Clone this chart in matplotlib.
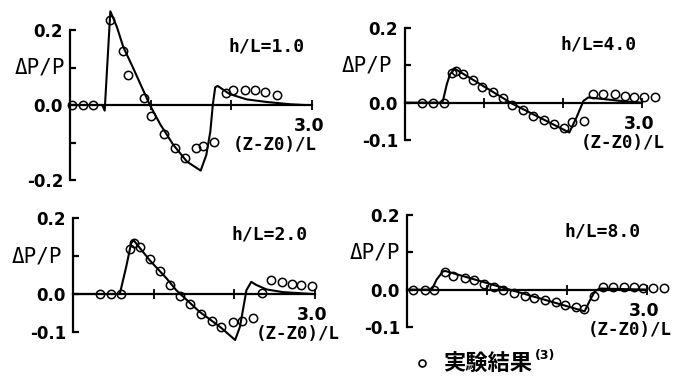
import matplotlib
matplotlib.use("Agg")
from matplotlib import pyplot as plt
from matplotlib.lines import Line2D

exp1_x = [0.02, 0.16, 0.29, 0.49, 0.66, 0.72, 0.92, 1.01, 1.16, 1.30, 1.42, 1.56, 1.65, 1.79, 1.93, 2.02, 2.17, 2.29, 2.42, 2.56]
exp1_y = [0, 0, 0, 0.227, 0.144, 0.081, 0.02, -0.03, -0.077, -0.114, -0.14, -0.115, -0.11, -0.099, 0.033, 0.039, 0.041, 0.039, 0.034, 0.028]
calc1_x = [0.0, 0.40, 0.43, 0.50, 0.58, 0.66, 0.78, 0.91, 0.99, 1.12, 1.28, 1.45, 1.62, 1.69, 1.74, 1.77, 1.80, 1.83, 1.98, 2.19, 2.44, 2.73, 2.90]
calc1_y = [0, 0, -0.015, 0.25, 0.209, 0.155, 0.10, 0.038, 0.0, -0.052, -0.106, -0.151, -0.175, -0.133, -0.07, 0.0, 0.047, 0.051, 0.029, 0.015, 0.008, 0.002, 0.0]

exp2_x = [0.21, 0.35, 0.49, 0.59, 0.65, 0.74, 0.86, 0.98, 1.12, 1.24, 1.36, 1.49, 1.62, 1.76, 1.89, 2.01, 2.12, 2.27, 2.38, 2.50, 2.66, 2.78, 2.90, 3.03, 3.16]
exp2_y = [0, 0, 0, 0.079, 0.086, 0.076, 0.061, 0.043, 0.028, 0.012, -0.005, -0.02, -0.035, -0.047, -0.058, -0.067, -0.053, -0.049, 0.023, 0.023, 0.023, 0.019, 0.016, 0.015, 0.016]
calc2_x = [0.0, 0.46, 0.48, 0.53, 0.57, 0.63, 1.36, 2.08, 2.17, 2.26, 2.32, 2.50, 2.80, 3.0]
calc2_y = [0, 0, 0.005, 0.05, 0.076, 0.091, -0.003, -0.08, -0.04, 0.005, 0.014, 0.01, 0.003, 0]

exp3_x = [0.33, 0.47, 0.60, 0.71, 0.75, 0.83, 0.96, 1.08, 1.20, 1.33, 1.45, 1.59, 1.72, 1.83, 1.98, 2.09, 2.23, 2.34, 2.46, 2.59, 2.71, 2.83, 2.96]
exp3_y = [0, 0, 0, 0.118, 0.135, 0.124, 0.091, 0.06, 0.025, -0.005, -0.025, -0.053, -0.07, -0.088, -0.073, -0.07, -0.064, 0.003, 0.037, 0.032, 0.026, 0.024, 0.021]
calc3_x = [0.0, 0.58, 0.66, 0.72, 0.75, 0.95, 1.16, 1.28, 1.57, 1.82, 2.01, 2.07, 2.15, 2.21, 2.27, 2.40, 2.60, 2.97]
calc3_y = [0, 0, 0.072, 0.133, 0.142, 0.089, 0.041, 0.01, -0.047, -0.086, -0.121, -0.086, 0.01, 0.032, 0.024, 0.012, 0.005, 0]

exp4_x = [0.08, 0.22, 0.34, 0.475, 0.58, 0.72, 0.84, 0.96, 1.09, 1.20, 1.34, 1.47, 1.59, 1.73, 1.86, 1.98, 2.11, 2.21, 2.34, 2.45, 2.58, 2.71, 2.84, 2.95, 3.08, 3.21]
exp4_y = [0, 0, 0, 0.046, 0.037, 0.031, 0.025, 0.016, 0.006, -0.002, -0.009, -0.016, -0.022, -0.029, -0.034, -0.04, -0.046, -0.051, -0.016, 0.007, 0.007, 0.007, 0.007, 0.004, 0.004, 0.004]
calc4_x = [0.0, 0.31, 0.37, 0.45, 0.48, 2.22, 2.29, 2.35, 2.41, 3.0]
calc4_y = [0, 0, 0.027, 0.049, 0.05, -0.058, -0.027, -0.004, 0.003, 0]

labels = ["h/L=1.0", "h/L=4.0", "h/L=2.0", "h/L=8.0"]
ymins = [-0.2, -0.1, -0.1, -0.1]
legend_text = "実験結果"

W, H = 673, 376
fig = plt.figure(figsize=(W / 100, H / 100), dpi=100)

# axes boxes in pixels: left, right, top(y=0.2), bottom(y=ymin)
boxes = [(70, 312, 30, 180), (405, 642, 28, 140), (73, 315, 218, 332), (407, 647, 215, 327)]
dp_off = [-5, -13, -11, -7]      # ΔP/P right edge vs axis
xl_off = [5, 23, 25, 25]         # (Z-Z0)/L right edge vs axis end

data = [(exp1_x, exp1_y, calc1_x, calc1_y), (exp2_x, exp2_y, calc2_x, calc2_y),
        (exp3_x, exp3_y, calc3_x, calc3_y), (exp4_x, exp4_y, calc4_x, calc4_y)]

mono = "DejaVu Sans Mono"

for i in range(4):
    l, r, t, b = boxes[i]
    ax = fig.add_axes([l / W, 1 - b / H, (r - l) / W, (b - t) / H])
    ax.patch.set_visible(False)
    ax.set_xlim(0, 3)
    ax.set_ylim(ymins[i], 0.2)
    ax.spines['top'].set_visible(False)
    ax.spines['right'].set_visible(False)
    ax.spines['bottom'].set_position(('data', 0))
    ax.spines['left'].set_linewidth(1.6)
    ax.spines['bottom'].set_linewidth(1.6)

    if ymins[i] == -0.2:
        yt = [-0.2, -0.1, 0, 0.1, 0.2]
        ytl = ['-0.2', '', '0.0', '', '0.2']
    else:
        yt = [-0.1, 0, 0.1, 0.2]
        ytl = ['-0.1', '0.0', '', '0.2']
    ax.set_yticks(yt)
    ax.set_yticklabels(ytl, fontweight='bold', fontsize=12)
    ax.tick_params(axis='y', direction='in', length=4, width=1.6, pad=5)
    ax.set_xticks([1, 2, 3])
    ax.set_xticklabels([])
    ax.tick_params(axis='x', direction='inout', length=7, width=1.3)

    ex, ey, cx, cy = data[i]
    ax.plot(cx, cy, color='k', lw=1.5, clip_on=False, zorder=3)
    ax.plot(ex, ey, 'o', mfc='none', mec='k', ms=6, mew=1.1, clip_on=False, zorder=4)

    ax.text(1.97, 0.157, labels[i], ha='left', va='center', fontsize=13,
            family=mono, fontweight='bold')
    ax.annotate('ΔP/P', xy=(0, 0.1), xytext=(dp_off[i], 0), textcoords='offset pixels',
                ha='right', va='center', fontsize=15, family=mono)
    ax.annotate('3.0', xy=(3, 0), xytext=(-3, -21), textcoords='offset pixels',
                ha='center', va='center', fontsize=12.5, fontweight='bold')
    ax.annotate('(Z-Z0)/L', xy=(3, 0), xytext=(xl_off[i], -40), textcoords='offset pixels',
                ha='right', va='center', fontsize=12.5, family=mono, fontweight='bold')

# legend at the bottom
fig.add_artist(Line2D([421.7 / W], [1 - 363 / H], marker='o', ls='none',
                      mfc='none', mec='k', ms=5, mew=1.2))
fig.text(443 / W, 1 - 363 / H, legend_text, ha='left', va='center', fontsize=16,
         family=['Noto Sans CJK JP', 'DejaVu Sans'], fontweight='bold')
fig.text(535 / W, 1 - 355 / H, '(3)', ha='left', va='center', fontsize=9,
         fontweight='bold')

fig.savefig('out.png', dpi=100)
